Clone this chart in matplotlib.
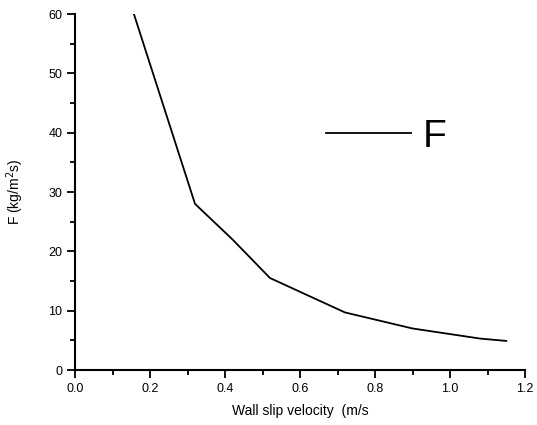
import matplotlib
matplotlib.use("Agg")
import matplotlib.pyplot as plt
from matplotlib.ticker import MultipleLocator

plt.rcParams['font.family'] = ['Liberation Sans', 'DejaVu Sans']

# wall slip velocity (m/s) vs F (kg/m^2 s)
velocity = [0.157, 0.32, 0.42, 0.52, 0.72, 0.90, 1.08, 1.15]
force = [60.0, 28.0, 22.0, 15.5, 9.7, 7.0, 5.3, 4.9]

fig = plt.figure(figsize=(5.37, 4.25), dpi=100)
ax = fig.add_axes([0.1397, 0.1294, 0.838, 0.8376])

ax.plot(velocity, force, color='black', lw=1.3, label='F')

ax.set_xlim(0.0, 1.2)
ax.set_ylim(0, 60)
ax.xaxis.set_major_locator(MultipleLocator(0.2))
ax.xaxis.set_minor_locator(MultipleLocator(0.1))
ax.yaxis.set_major_locator(MultipleLocator(10))
ax.yaxis.set_minor_locator(MultipleLocator(5))
ax.xaxis.set_major_formatter(plt.FuncFormatter(lambda v, p: f"{v:.1f}"))

for side in ('top', 'right'):
    ax.spines[side].set_visible(False)
for side in ('left', 'bottom'):
    ax.spines[side].set_linewidth(1.5)

ax.tick_params(which='major', direction='out', length=6, width=1.3,
               labelsize=9, pad=3)
ax.tick_params(which='minor', direction='out', length=3.5, width=1.3)

ax.set_xlabel('Wall slip velocity  (m/s', fontsize=10, labelpad=7)
ax.set_ylabel('F (kg/m$^2$s)', fontsize=10, labelpad=16)

ax.legend(loc='center left', bbox_to_anchor=(0.557, 0.655), frameon=False,
          fontsize=28, handlelength=2.2, handletextpad=0.3,
          borderpad=0, borderaxespad=0)

fig.savefig('out.png', dpi=100)
